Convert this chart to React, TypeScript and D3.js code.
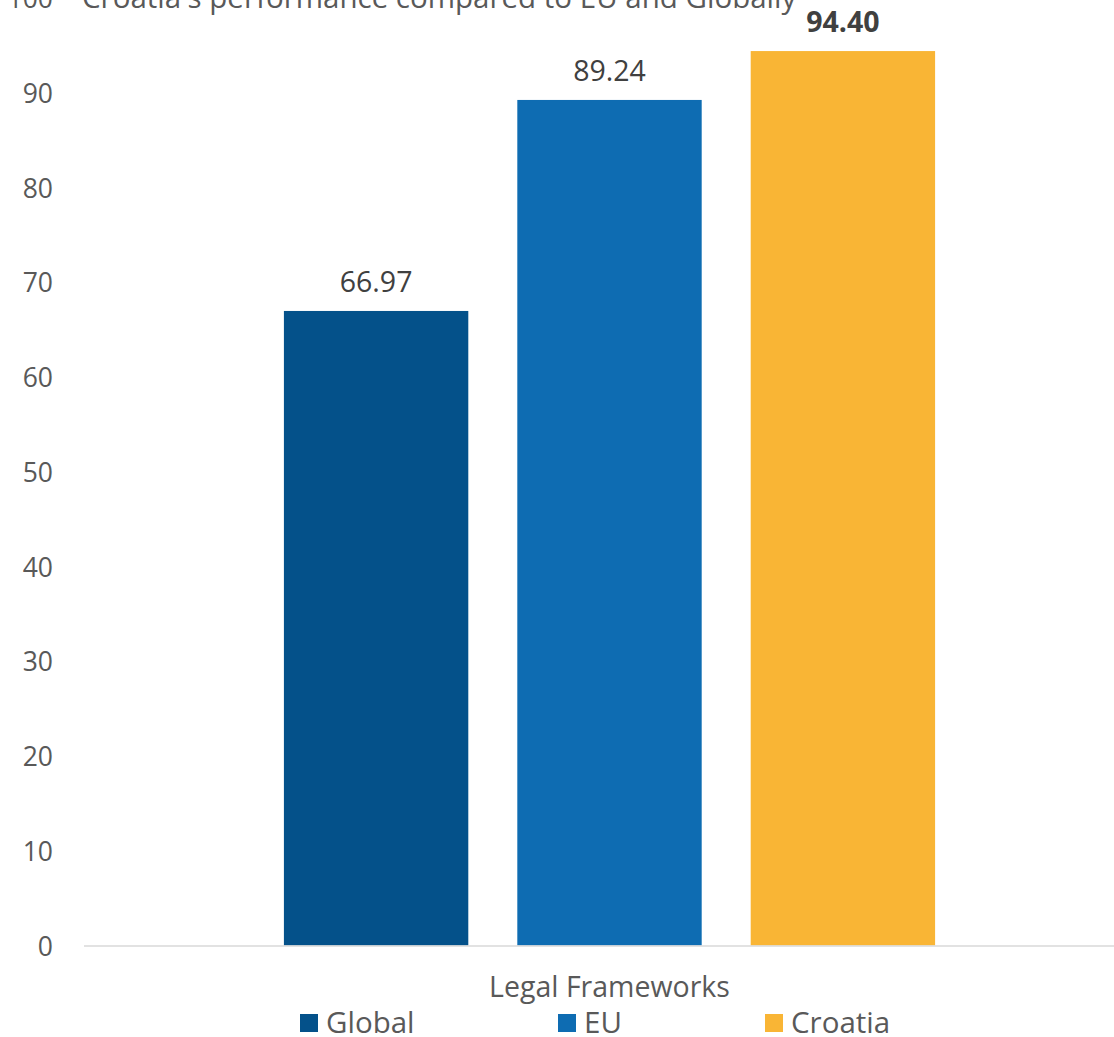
import React from "react";
import * as d3 from "d3";

const title = "Croatia's performance compared to EU and Globally";
const categories = ["Legal Frameworks"];
const seriesNames = ["Global", "EU", "Croatia"];
const seriesValues = [66.97, 89.24, 94.4];
const seriesColors = ["#04518A", "#0E6CB2", "#F9B535"];
const boldLabel = [false, false, true];
const yTicks = [0, 10, 20, 30, 40, 50, 60, 70, 80, 90, 100];

const W = 1114;
const H = 1037;
const FONT = "'Open Sans', 'Liberation Sans', sans-serif";

export default function App() {
  const y = d3.scaleLinear().domain([0, 100]).range([945.5, -2]);
  const x0 = d3.scaleBand().domain(categories).range([84, 1135]).paddingInner(0).paddingOuter(0.307);
  const x1 = d3
    .scaleBand()
    .domain(seriesNames)
    .range([0, x0.bandwidth()])
    .paddingInner(0.21)
    .paddingOuter(0);

  const legendX = [300, 558, 765];

  return (
    <svg
      width={W}
      height={H}
      style={{ position: "absolute", left: 0, top: 0, display: "block", background: "#fff" }}
      fontFamily={FONT}
    >
      <text x={82} y={8} fontSize={29.5} fill="#595959">
        {title}
      </text>
      {yTicks.map((t) => (
        <text key={t} x={53} y={y(t)} fontSize={26.5} fill="#595959" textAnchor="end" dominantBaseline="central">
          {t}
        </text>
      ))}
      {categories.map((c) => (
        <g key={c}>
          {seriesNames.map((s, i) => {
            const bx = (x0(c) as number) + (x1(s) as number);
            const v = seriesValues[i];
            return (
              <g key={s}>
                <rect x={bx} y={y(v)} width={x1.bandwidth()} height={y(0) - y(v)} fill={seriesColors[i]} />
                <text
                  x={bx + x1.bandwidth() / 2}
                  y={y(v) - 30}
                  fontSize={28.5}
                  fill="#404040"
                  fontWeight={boldLabel[i] ? "bold" : "normal"}
                  textAnchor="middle"
                  dominantBaseline="central"
                >
                  {v.toFixed(2)}
                </text>
              </g>
            );
          })}
          <text
            x={(x0(c) as number) + x0.bandwidth() / 2}
            y={986}
            fontSize={28.5}
            fill="#595959"
            textAnchor="middle"
            dominantBaseline="central"
          >
            {c}
          </text>
        </g>
      ))}
      <line x1={84} x2={W} y1={946} y2={946} stroke="#D9D9D9" strokeWidth={1.5} />
      {seriesNames.map((s, i) => (
        <g key={s}>
          <rect x={legendX[i]} y={1014} width={18} height={18} fill={seriesColors[i]} />
          <text x={legendX[i] + 26} y={1021} fontSize={29.5} fill="#595959" dominantBaseline="central">
            {s}
          </text>
        </g>
      ))}
    </svg>
  );
}
